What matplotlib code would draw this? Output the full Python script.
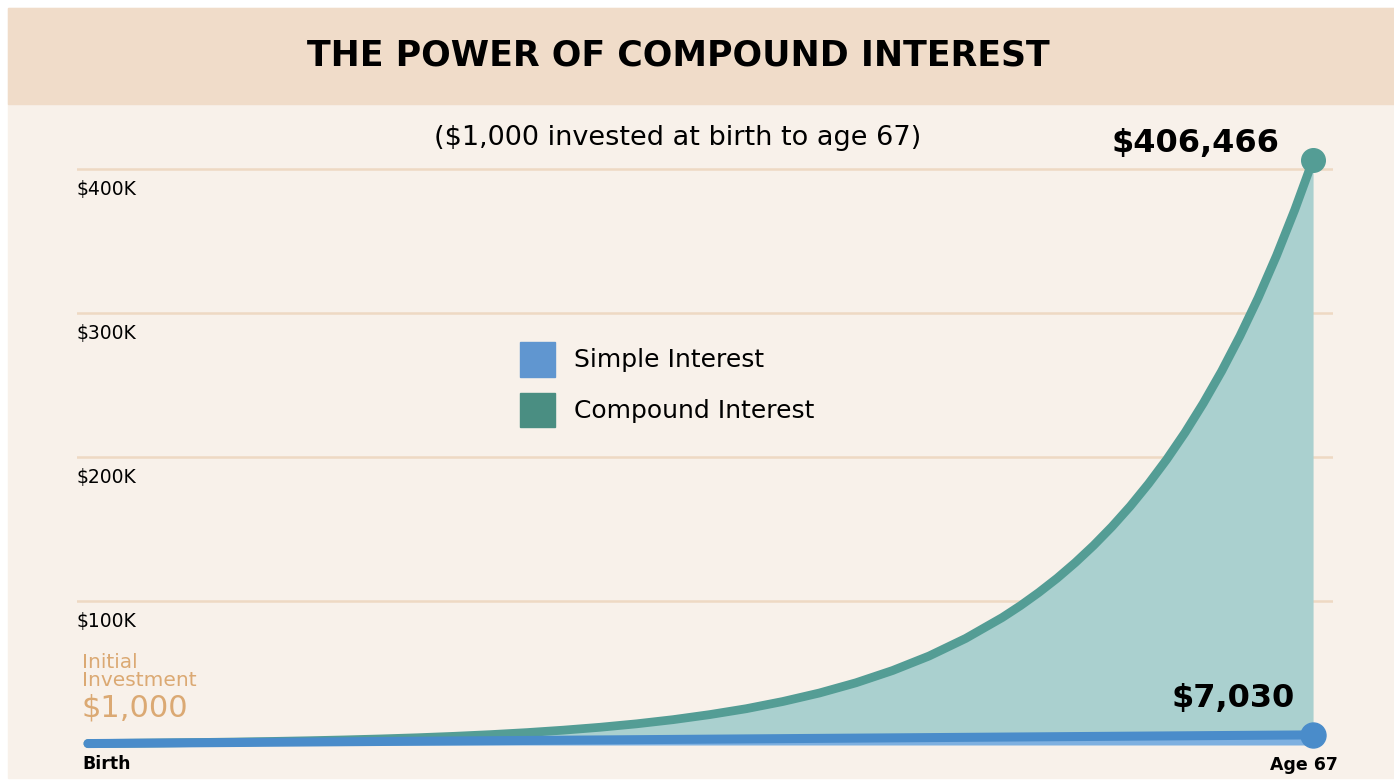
#!/usr/bin/env python3
"""
The power of compound interest: $1,000 invested at birth to age 67
"""

import matplotlib
matplotlib.use("Agg")
import matplotlib.pyplot as plt
from matplotlib.patches import Rectangle, Patch

# values
compound_ages = [0, 2, 4, 6, 8, 10, 12, 14, 16, 18, 20, 22, 24, 26, 28, 30,
                 32, 34, 36, 38, 40, 42, 44, 46, 48, 50, 51, 52, 53, 54, 55,
                 56, 57, 58, 59, 60, 61, 62, 63, 64, 65, 66, 67]
compound_values = [1000, 1200, 1430, 1710, 2050, 2450, 2930, 3510, 4200,
                   5020, 6010, 7190, 8600, 10300, 12300, 14700, 17600, 21100,
                   25200, 30200, 36100, 43200, 51700, 61800, 74000, 88500,
                   96800, 105900, 115800, 126700, 138600, 151600, 165800,
                   181400, 198400, 217000, 237400, 259600, 284000, 310600,
                   339800, 371700, 406466]
simple_ages = [0, 67]
simple_values = [1000, 7030]
grid_values = [100000, 200000, 300000, 400000]
grid_labels = ["$100K", "$200K", "$300K", "$400K"]

W, H = 1394, 782
FONT = "DejaVu Sans"

BAR = "#f0dcc9"
BG = "#f8f1ea"
GRID = "#eed9c3"
TAN = "#dba973"
TEAL = "#549d95"
TEAL_FILL = "#aad0cf"
BLUE = "#4a8cca"
BLUE_FILL = "#7eb0e0"


def fx(x):
    return x / W


def fy(y):
    return 1 - y / H


fig = plt.figure(figsize=(W / 100, H / 100), dpi=100)
fig.patch.set_facecolor("white")

# background panel and title bar
fig.add_artist(Rectangle((fx(8), fy(778)), 1 - fx(8), fy(8) - fy(778),
                         transform=fig.transFigure, color=BG, zorder=0))
fig.add_artist(Rectangle((fx(8), fy(104)), 1 - fx(8), fy(8) - fy(104),
                         transform=fig.transFigure, color=BAR, zorder=0))

fig.text(fx(678), fy(56), "THE POWER OF COMPOUND INTEREST", ha="center",
         va="center", fontsize=25, fontweight="bold", family=FONT)
fig.text(fx(678), fy(138), "($1,000 invested at birth to age 67)", ha="center",
         va="center", fontsize=19.5, family=FONT)

# plotting area: x=0 at 88px, x=67 at 1313px, y=0 at 745px, 144px per 100K
ax = fig.add_axes([fx(77), fy(760), fx(1333) - fx(77), fy(150) - fy(760)])
ax.set_facecolor("none")
ax.set_xlim(-0.60, 68.09)
ax.set_ylim(-10417, 413194)
for s in ax.spines.values():
    s.set_visible(False)
ax.set_xticks([])
ax.set_yticks([])

for v, lab in zip(grid_values, grid_labels):
    ax.axhline(v, color=GRID, lw=1.8, zorder=1)
    ax.annotate(lab, xy=(0, v), xycoords=("axes fraction", "data"),
                xytext=(0, -15), textcoords="offset points", ha="left",
                va="center", fontsize=13.5, family=FONT)

# fills
simple_at_compound = [simple_values[0] + (simple_values[1] - simple_values[0]) * a / 67
                      for a in compound_ages]
ax.fill_between(compound_ages, simple_at_compound, compound_values,
                color=TEAL_FILL, lw=0, zorder=2)
ax.fill_between(simple_ages, 0, simple_values, color=BLUE_FILL, lw=0, zorder=2)

# lines
ax.plot(compound_ages, compound_values, color=TEAL, lw=6.3, solid_capstyle="round",
        solid_joinstyle="round", zorder=3, clip_on=False)
ax.plot(compound_ages[-1], compound_values[-1], "o", color=TEAL, ms=17,
        zorder=4, clip_on=False)
ax.plot(simple_ages, simple_values, color=BLUE, lw=6.5, solid_capstyle="round",
        zorder=5, clip_on=False)
ax.plot(simple_ages[-1], simple_values[-1], "o", color=BLUE, ms=18,
        zorder=6, clip_on=False)

ax.annotate(f"${compound_values[-1]:,}", xy=(compound_ages[-1], compound_values[-1]),
            xytext=(-24, 11.5), textcoords="offset points", ha="right",
            va="center", fontsize=23, fontweight="bold", family=FONT)
ax.annotate(f"${simple_values[-1]:,}", xy=(simple_ages[-1], simple_values[-1]),
            xytext=(-13, 26), textcoords="offset points", ha="right",
            va="center", fontsize=23, fontweight="bold", family=FONT)

# initial investment and axis end labels
fig.text(fx(82), fy(662), "Initial", ha="left", va="center", fontsize=14.5,
         color=TAN, family=FONT)
fig.text(fx(82), fy(680), "Investment", ha="left", va="center", fontsize=14.5,
         color=TAN, family=FONT)
fig.text(fx(81), fy(708), f"${simple_values[0]:,}", ha="left", va="center",
         fontsize=22, color=TAN, family=FONT)
fig.text(fx(82), fy(764), "Birth", ha="left", va="center", fontsize=12.5,
         fontweight="bold", family=FONT)
fig.text(fx(1338), fy(765), "Age 67", ha="right", va="center", fontsize=12.5,
         fontweight="bold", family=FONT)

# legend
handles = [Patch(color="#6096d0", label="Simple Interest"),
           Patch(color="#4a8e82", label="Compound Interest")]
ax.legend(handles=handles, loc="upper left", bbox_to_anchor=(fx(520), fy(342)),
          bbox_transform=fig.transFigure, frameon=False, borderpad=0,
          borderaxespad=0, handlelength=1.4, handleheight=1.75,
          handletextpad=0.75, labelspacing=0.64,
          prop={"family": FONT, "size": 18})

fig.savefig("out.png", dpi=100, facecolor=fig.get_facecolor())
